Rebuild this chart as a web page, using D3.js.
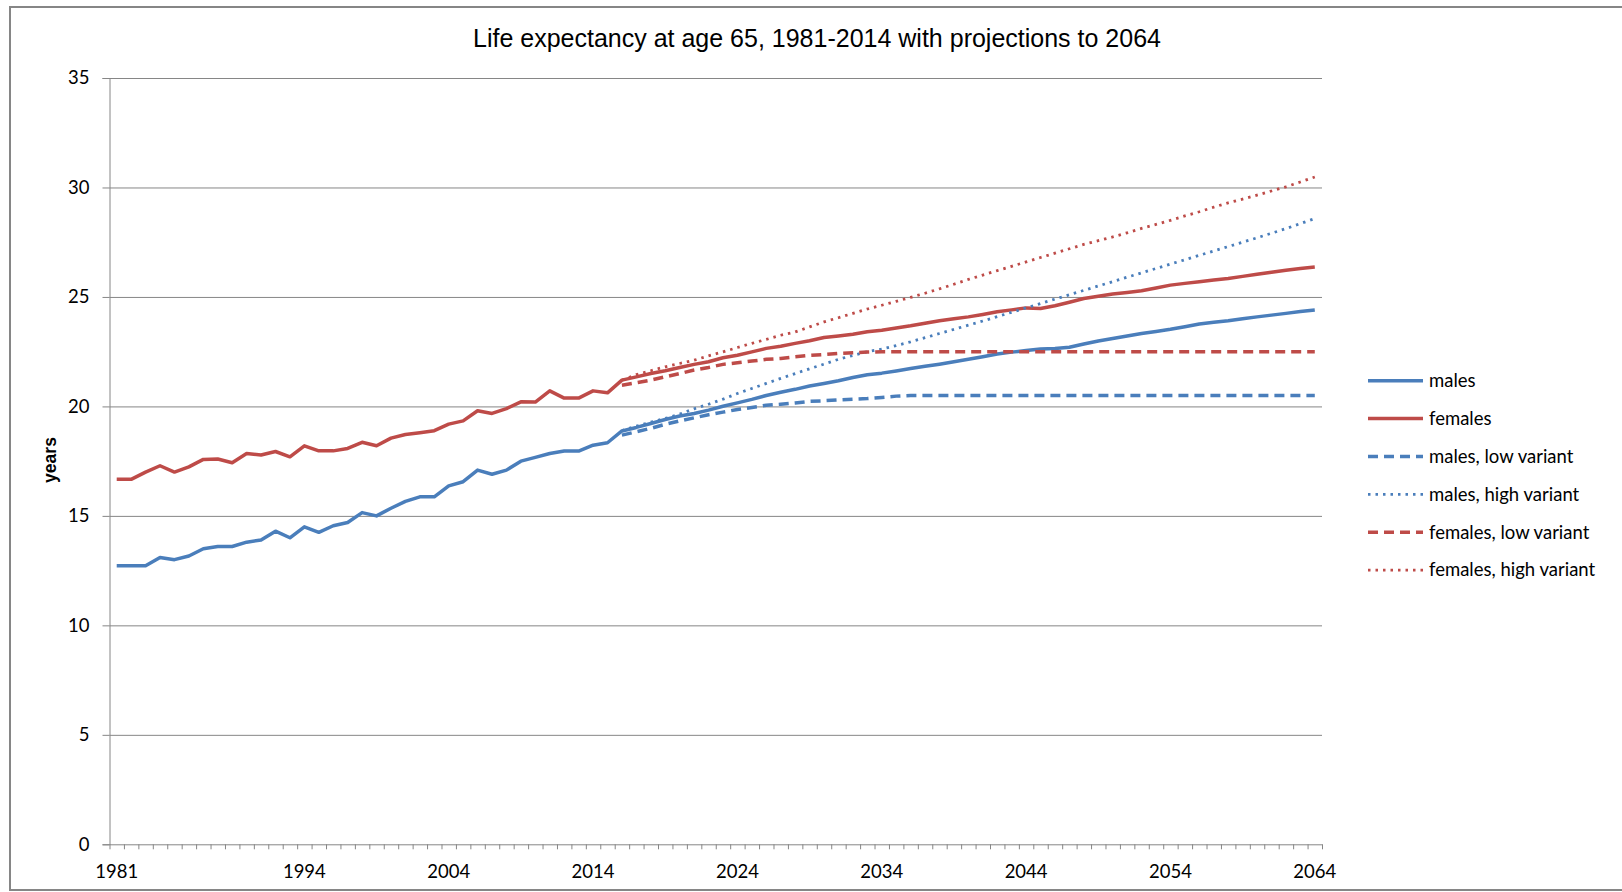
<!DOCTYPE html>
<meta http-equiv="Content-type" content="text/html; charset=UTF-8"/>
<style>
  body { margin: 0; background: #fff; }
  svg { display: block; }
</style>
<svg width="1622" height="892"></svg>
<script src="https://d3js.org/d3.v7.min.js"></script>
<script>
// categories: one per year, first projection year 2016
var years = d3.range(1981, 2065);
var projYears = d3.range(2016, 2065);
var xTickLabels = [1981, 1994, 2004, 2014, 2024, 2034, 2044, 2054, 2064];
var yTicks = [0, 5, 10, 15, 20, 25, 30, 35];

// 1981-2015 observed, 2016-2064 principal projection
var males = [12.72, 12.72, 12.72, 13.1, 13.0, 13.17, 13.5, 13.6, 13.6, 13.8,
  13.9, 14.3, 14.0, 14.5, 14.25, 14.55, 14.7, 15.15, 15.0, 15.35,
  15.66, 15.87, 15.87, 16.37, 16.56, 17.09, 16.9, 17.09, 17.5, 17.67,
  17.85, 17.96, 17.96, 18.23, 18.34,
  18.88, 19.04, 19.22, 19.4, 19.56, 19.68, 19.83, 20.01, 20.16, 20.32,
  20.5, 20.65, 20.78, 20.93, 21.05, 21.17, 21.32, 21.45, 21.52, 21.62,
  21.73, 21.83, 21.93, 22.04, 22.15, 22.27, 22.39, 22.48, 22.55, 22.62,
  22.65, 22.7, 22.85, 22.99, 23.1, 23.22, 23.33, 23.42, 23.52, 23.64,
  23.76, 23.84, 23.91, 24.0, 24.09, 24.17, 24.25, 24.33, 24.4];

var females = [16.67, 16.67, 17.0, 17.29, 17.0, 17.24, 17.58, 17.6, 17.43, 17.85,
  17.78, 17.94, 17.7, 18.2, 17.97, 17.97, 18.08, 18.36, 18.2, 18.55,
  18.72, 18.8, 18.89, 19.19, 19.34, 19.8, 19.68, 19.9, 20.21, 20.2,
  20.71, 20.38, 20.38, 20.71, 20.62,
  21.2, 21.35, 21.5, 21.63, 21.78, 21.92, 22.04, 22.22, 22.34, 22.49,
  22.65, 22.75, 22.88, 23.0, 23.15, 23.22, 23.3, 23.41, 23.48, 23.58,
  23.68, 23.8, 23.91, 24.0, 24.09, 24.2, 24.32, 24.41, 24.5, 24.47,
  24.6, 24.76, 24.93, 25.03, 25.13, 25.2, 25.28, 25.41, 25.54, 25.62,
  25.69, 25.77, 25.84, 25.94, 26.04, 26.13, 26.22, 26.3, 26.37];

// variants, 2016-2064
var malesLow = [18.69, 18.84, 19.0, 19.18, 19.34, 19.48, 19.62, 19.74, 19.86, 19.95,
  20.05, 20.1, 20.16, 20.23, 20.26, 20.3, 20.33, 20.36, 20.41, 20.47,
  20.5, 20.5, 20.5, 20.5, 20.5, 20.5, 20.5, 20.5, 20.5, 20.5,
  20.5, 20.5, 20.5, 20.5, 20.5, 20.5, 20.5, 20.5, 20.5, 20.5,
  20.5, 20.5, 20.5, 20.5, 20.5, 20.5, 20.5, 20.5, 20.5];

var malesHigh = [18.9, 19.1, 19.28, 19.45, 19.65, 19.89, 20.1, 20.33, 20.59, 20.82,
  21.05, 21.28, 21.5, 21.72, 21.93, 22.15, 22.33, 22.5, 22.62, 22.78,
  22.95, 23.14, 23.33, 23.52, 23.71, 23.9, 24.1, 24.3, 24.5, 24.7,
  24.9, 25.1, 25.3, 25.5, 25.7, 25.9, 26.1, 26.3, 26.5, 26.7,
  26.9, 27.1, 27.3, 27.5, 27.7, 27.91, 28.12, 28.35, 28.58];

var femalesLow = [20.97, 21.08, 21.2, 21.35, 21.5, 21.66, 21.78, 21.92, 21.99, 22.07,
  22.15, 22.19, 22.27, 22.33, 22.37, 22.42, 22.45, 22.48, 22.5, 22.5,
  22.5, 22.5, 22.5, 22.5, 22.5, 22.5, 22.5, 22.5, 22.5, 22.5,
  22.5, 22.5, 22.5, 22.5, 22.5, 22.5, 22.5, 22.5, 22.5, 22.5,
  22.5, 22.5, 22.5, 22.5, 22.5, 22.5, 22.5, 22.5, 22.5];

var femalesHigh = [21.2, 21.45, 21.63, 21.81, 21.96, 22.11, 22.31, 22.49, 22.69, 22.88,
  23.06, 23.25, 23.4, 23.63, 23.86, 24.05, 24.25, 24.45, 24.62, 24.8,
  24.98, 25.17, 25.37, 25.58, 25.8, 26.0, 26.2, 26.4, 26.6, 26.8,
  27.0, 27.2, 27.4, 27.57, 27.74, 27.93, 28.13, 28.31, 28.5, 28.7,
  28.89, 29.1, 29.3, 29.47, 29.65, 29.84, 30.03, 30.25, 30.48];

var blue = "#4a7ebb", red = "#be4b48";
var series = [
  {name: "males", x: years, y: males, color: blue, dash: null},
  {name: "females", x: years, y: females, color: red, dash: null},
  {name: "males, low variant", x: projYears, y: malesLow, color: blue, dash: "10,6"},
  {name: "males, high variant", x: projYears, y: malesHigh, color: blue, dash: "2.5,5", thin: true},
  {name: "females, low variant", x: projYears, y: femalesLow, color: red, dash: "10,6"},
  {name: "females, high variant", x: projYears, y: femalesHigh, color: red, dash: "2.5,5", thin: true}
];

var svg = d3.select("svg"),
    margin = {top: 78, right: 300, bottom: 47.7, left: 109.5},
    width = 1622 - margin.left - margin.right,
    height = 892 - margin.top - margin.bottom,
    g = svg.append("g").attr("transform", "translate(" + margin.left + "," + margin.top + ")");

var labelFont = "Lato, 'Liberation Sans', sans-serif";
var grey = "#868686";

// frame around the chart
svg.append("path")
    .attr("d", "M1640,7H10V890H1640")
    .attr("fill", "none")
    .attr("stroke", grey)
    .attr("stroke-width", 2);

var x = d3.scaleBand().domain(years).range([0, width]).padding(0);
var xEdge = d3.scaleLinear().domain([0, years.length]).range([0, width]);
var y = d3.scaleLinear().domain([0, 35]).range([height, 0]);

// gridlines
g.append("g")
    .call(d3.axisLeft(y).tickValues(yTicks.slice(1)).tickSize(-width).tickFormat(""))
    .call(function(a) {
      a.select(".domain").remove();
      a.selectAll("line").attr("stroke", grey);
    });

// y axis
g.append("g")
    .call(d3.axisLeft(y).tickValues(yTicks).tickSize(7).tickPadding(13))
    .call(function(a) {
      a.select(".domain").attr("stroke", grey);
      a.selectAll("line").attr("stroke", grey);
      a.selectAll("text")
        .attr("font-family", labelFont)
        .attr("font-size", 18.5)
        .attr("fill", "#000");
    });

// x axis: ticks between the categories
g.append("g")
    .attr("transform", "translate(0," + height + ")")
    .call(d3.axisBottom(xEdge).tickValues(d3.range(0, years.length + 1)).tickSize(5).tickFormat("").tickSizeOuter(0))
    .call(function(a) {
      a.select(".domain").attr("stroke", grey);
      a.selectAll("line").attr("stroke", grey);
    });

g.append("g")
    .attr("transform", "translate(0," + height + ")")
    .call(d3.axisBottom(x).tickValues(xTickLabels).tickSize(0).tickPadding(21))
    .call(function(a) {
      a.select(".domain").remove();
      a.selectAll("text")
        .attr("font-family", labelFont)
        .attr("font-size", 18.5)
        .attr("fill", "#000");
    });

// y axis title
svg.append("text")
    .attr("transform", "translate(56,460) rotate(-90)")
    .attr("text-anchor", "middle")
    .attr("font-family", "'Liberation Sans', Arial, sans-serif")
    .attr("font-weight", "bold")
    .attr("font-size", 17.5)
    .text("years");

// chart title
svg.append("text")
    .attr("x", 817)
    .attr("y", 46.5)
    .attr("text-anchor", "middle")
    .attr("font-family", "'Liberation Sans', Arial, sans-serif")
    .attr("font-size", 25)
    .text("Life expectancy at age 65, 1981-2014 with projections to 2064");

var line = d3.line()
    .x(function(d) { return x(d[0]) + x.bandwidth() / 2; })
    .y(function(d) { return y(d[1]); });

series.forEach(function(s) {
  g.append("path")
      .datum(d3.zip(s.x, s.y))
      .attr("fill", "none")
      .attr("stroke", s.color)
      .attr("stroke-width", s.thin ? 2.8 : 3.5)
      .attr("stroke-linejoin", "round")
      .attr("stroke-dasharray", s.dash)
      .attr("d", line);
});

// legend
var legend = svg.append("g").attr("transform", "translate(1368,380.7)");
var item = legend.selectAll("g")
    .data(series)
  .enter().append("g")
    .attr("transform", function(d, i) { return "translate(0," + (i * 37.9) + ")"; });

item.append("line")
    .attr("x1", 0).attr("x2", 55)
    .attr("stroke", function(d) { return d.color; })
    .attr("stroke-width", function(d) { return d.thin ? 2.8 : 3.5; })
    .attr("stroke-dasharray", function(d) { return d.dash; });

item.append("text")
    .attr("x", 61)
    .attr("dy", "0.34em")
    .attr("font-family", labelFont)
    .attr("font-size", 18.5)
    .text(function(d) { return d.name; });
</script>
